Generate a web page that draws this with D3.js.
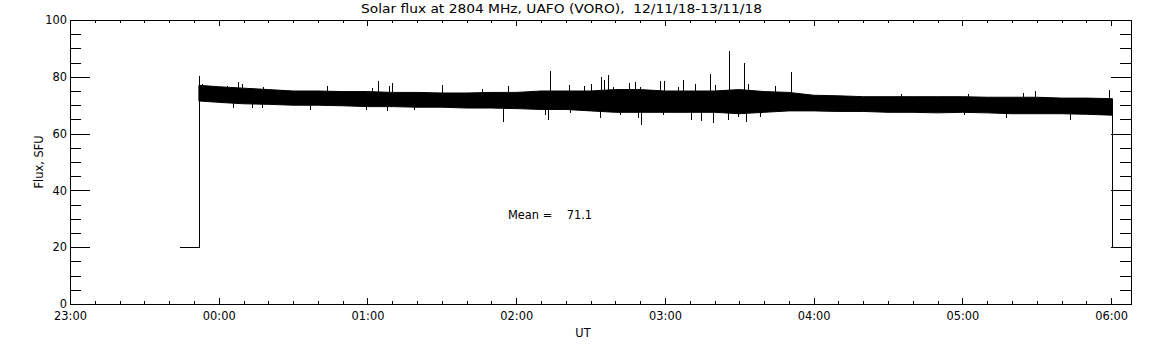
<!DOCTYPE html>
<html>
<head>
<meta charset="utf-8">
<script src="https://cdn.jsdelivr.net/npm/d3@7"></script>
<style>
body { margin: 0; background: #fff; }
text { font-family: "DejaVu Sans", sans-serif; fill: #000; }
</style>
</head>
<body>
<div id="chart"></div>
<script>
// times are minutes from 00:00 UT on 13/11/18 (negative = 12/11)
var titleText = "Solar flux at 2804 MHz, UAFO (VORO),  12/11/18-13/11/18";
var meanFlux = 71.1;
var yTicks = [0, 20, 40, 60, 80, 100];

// level before / after the observation
var offTimes = [-16, -8];
var offLevel = 20;
var endTime = 360.5;
var startPeak = 80.5;

// main noise band (core upper / lower edge), read every 10 min
var bandTimes = [-8, 0, 10, 20, 30, 40, 50, 60, 70, 80, 90, 100, 110, 120, 130, 140, 150, 160, 170, 180,
    190, 200, 210, 220, 230, 240, 250, 260, 270, 280, 290, 300, 310, 320, 330, 340, 350, 360, 360.5];
var bandTop = [77.0, 76.5, 76.0, 75.5, 75.0, 75.0, 74.8, 74.8, 74.5, 74.5, 74.3, 74.3, 74.5, 74.5, 75.0, 75.0, 75.0, 75.5, 75.5, 75.0,
    75.0, 75.0, 75.5, 74.8, 74.5, 73.5, 73.3, 73.0, 73.0, 73.0, 73.0, 73.0, 72.8, 72.8, 72.8, 72.5, 72.5, 72.3, 72.3];
var bandBottom = [71.5, 71.0, 70.5, 70.3, 70.0, 70.0, 69.8, 69.5, 69.5, 69.3, 69.3, 69.0, 69.0, 68.8, 68.5, 68.5, 68.0, 67.5, 67.5, 67.5,
    67.5, 67.5, 67.0, 67.5, 68.0, 68.0, 67.8, 67.8, 67.5, 67.5, 67.3, 67.5, 67.3, 67.0, 67.0, 67.0, 66.8, 66.5, 66.5];

// spikes sticking out of the band [time, flux]
var spikesUp = [[-6.9, 77.4], [3.2, 76.9], [7.9, 78.0], [9.2, 77.4], [17.7, 76.5], [43.5, 76.8], [62, 76.2], [64.3, 78.6],
    [68.7, 76.9], [69.7, 77.7], [90.1, 77.0], [106.2, 75.7], [116.7, 76.8], [133.5, 82.0], [141.3, 77.0], [147.2, 76.8],
    [150.3, 77.4], [154.4, 79.8], [155.4, 78.9], [157.1, 80.6], [159.1, 76.5], [165.5, 77.7], [167.8, 78.3], [170.1, 76.5],
    [178.2, 78.5], [179.6, 78.5], [185.3, 76.5], [187.3, 78.9], [192, 77.4], [198.2, 81.0], [200.1, 77.0], [205.8, 89.1],
    [211.9, 84.7], [213.5, 77.4], [224.3, 76.9], [231, 81.6], [275.3, 73.8], [302.2, 73.8], [324.4, 74.2], [329.1, 75.0],
    [359.1, 75.4]];
var spikesDown = [[5.8, 69.1], [13.3, 69.1], [17.3, 68.9], [37, 68.3], [59.6, 68.3], [67.7, 68.1], [78.7, 68.3],
    [114.7, 64.2], [131.5, 66.5], [132.9, 64.8], [141.6, 67.1], [153.7, 65.4], [161.8, 66.5], [169.1, 65.4], [170.5, 63.0],
    [179.2, 66.5], [190.7, 64.8], [194.7, 64.4], [199.4, 63.6], [205.4, 64.8], [209.5, 65.7], [212.8, 64.0], [218.2, 66.0],
    [300.8, 66.5], [317.7, 65.6], [343.2, 64.8]];

var svgWidth = 1152, svgHeight = 345;
var plot = { left: 70, right: 1131, top: 20, bottom: 304 };

var base = Date.UTC(2018, 10, 13, 0, 0);
function t(m) { return new Date(base + m * 60000); }

var svg = d3.select("#chart").append("svg").attr("width", svgWidth).attr("height", svgHeight);

// 23:00 .. 06:08
var x = d3.scaleUtc().domain([t(-60), t(368)]).range([plot.left, plot.right]);
var y = d3.scaleLinear().domain([0, 100]).range([plot.bottom, plot.top]);

var hours = d3.utcHour.range(t(-60), t(369));
var tenMin = d3.utcMinute.every(10).range(t(-60), t(369));
var fives = d3.range(0, 101, 5);

function styleAxis(g) {
    g.attr("font-family", null).attr("font-size", null);
    g.selectAll("path, line").attr("stroke", "#000").attr("shape-rendering", "crispEdges");
    g.selectAll("text").attr("font-size", "11.4px").attr("fill", "#000");
}

// x axes (bottom with labels, top without)
svg.append("g").attr("transform", `translate(0, ${plot.bottom})`)
    .call(d3.axisBottom(x).tickValues(tenMin).tickSize(-3).tickSizeOuter(0).tickFormat(""))
    .call(styleAxis);
svg.append("g").attr("transform", `translate(0, ${plot.bottom})`)
    .call(d3.axisBottom(x).tickValues(hours).tickSize(-6).tickSizeOuter(0).tickPadding(8).tickFormat(d3.utcFormat("%H:%M")))
    .call(styleAxis);
svg.append("g").attr("transform", `translate(0, ${plot.top})`)
    .call(d3.axisTop(x).tickValues(tenMin).tickSize(-3).tickSizeOuter(0).tickFormat(""))
    .call(styleAxis);
svg.append("g").attr("transform", `translate(0, ${plot.top})`)
    .call(d3.axisTop(x).tickValues(hours).tickSize(-6).tickSizeOuter(0).tickFormat(""))
    .call(styleAxis);

// y axes
svg.append("g").attr("transform", `translate(${plot.left}, 0)`)
    .call(d3.axisLeft(y).tickValues(fives).tickSize(-11).tickSizeOuter(0).tickFormat(""))
    .call(styleAxis);
svg.append("g").attr("transform", `translate(${plot.left}, 0)`)
    .call(d3.axisLeft(y).tickValues(yTicks).tickSize(-20).tickSizeOuter(0).tickPadding(3))
    .call(styleAxis);
svg.append("g").attr("transform", `translate(${plot.right}, 0)`)
    .call(d3.axisRight(y).tickValues(fives).tickSize(-11).tickSizeOuter(0).tickFormat(""))
    .call(styleAxis);
svg.append("g").attr("transform", `translate(${plot.right}, 0)`)
    .call(d3.axisRight(y).tickValues(yTicks).tickSize(-20).tickSizeOuter(0).tickFormat(""))
    .call(styleAxis);

// band middle, used as root of the spikes
var mid = d3.scaleLinear().domain(bandTimes).range(bandTimes.map((d, i) => (bandTop[i] + bandBottom[i]) / 2));

var data = svg.append("g");
var line = d3.line().x(d => Math.round(x(t(d[0]))) + 0.5).y(d => Math.round(y(d[1])) + 0.5);

// off level and the jump at start
var startLine = [[offTimes[0], offLevel], [offTimes[1], offLevel], [offTimes[1], startPeak], [offTimes[1], mid(offTimes[1])]];
data.append("path")
    .attr("d", line(startLine))
    .attr("fill", "none").attr("stroke", "#000").attr("stroke-width", 1).attr("shape-rendering", "crispEdges");

// drop at the end
var endLine = [[endTime, bandTop[bandTop.length - 1]], [endTime, offLevel]];
data.append("path")
    .attr("d", line(endLine))
    .attr("fill", "none").attr("stroke", "#000").attr("stroke-width", 1).attr("shape-rendering", "crispEdges");

// noise band
data.append("path")
    .datum(bandTimes)
    .attr("d", d3.area()
        .x(d => x(t(d)))
        .y0((d, i) => y(bandBottom[i]))
        .y1((d, i) => y(bandTop[i])))
    .attr("fill", "#000").attr("stroke", "#000").attr("stroke-width", 1);

// spikes
data.selectAll("line.spike").data(spikesUp.concat(spikesDown)).enter().append("line")
    .attr("class", "spike")
    .attr("x1", d => Math.round(x(t(d[0]))) + 0.5)
    .attr("x2", d => Math.round(x(t(d[0]))) + 0.5)
    .attr("y1", d => y(mid(d[0])))
    .attr("y2", d => y(d[1]))
    .attr("stroke", "#000").attr("stroke-width", 1).attr("shape-rendering", "crispEdges");

// texts
svg.append("text")
    .attr("x", 561.5).attr("y", 13)
    .attr("text-anchor", "middle")
    .attr("font-size", "12px")
    .attr("textLength", 401).attr("lengthAdjust", "spacingAndGlyphs")
    .style("white-space", "pre")
    .text(titleText);

svg.append("text")
    .attr("x", 583).attr("y", 337)
    .attr("text-anchor", "middle")
    .attr("font-size", "11.4px")
    .text("UT");

svg.append("text")
    .attr("transform", "translate(43, 162) rotate(-90)")
    .attr("text-anchor", "middle")
    .attr("font-size", "11.4px")
    .text("Flux, SFU");

svg.append("text")
    .attr("x", x(t(116.7))).attr("y", y(30.1))
    .attr("font-size", "11.4px")
    .style("white-space", "pre")
    .text("Mean =    " + meanFlux.toFixed(1));
</script>
</body>
</html>
